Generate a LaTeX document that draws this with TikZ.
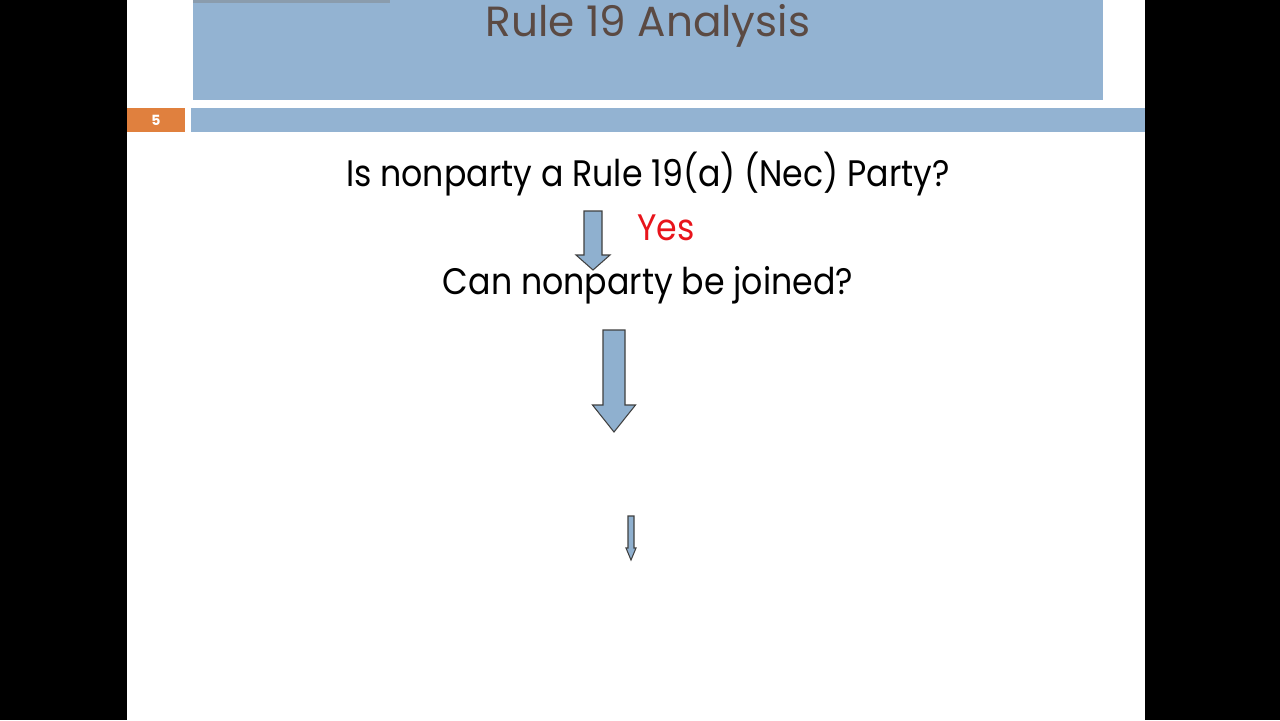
\documentclass[tikz,border=0pt]{standalone}
\usepackage{fontspec}
\setmainfont{Poppins}
\newfontfamily\narrowfont[FakeStretch=0.9]{Poppins}
\usetikzlibrary{positioning}
\definecolor{slideblue}{HTML}{93B3D2}
\definecolor{slideorange}{HTML}{E0803E}
\definecolor{titlebrown}{HTML}{5B4A43}
\definecolor{yesred}{HTML}{E8141B}
\definecolor{arrowblue}{HTML}{8FB0CF}
\tikzset{
  band/.style= {fill=slideblue, draw=none},
  title/.style= {font=\fontsize{24}{28}\selectfont, text=titlebrown, anchor=base, inner sep=0},
  question/.style= {font=\narrowfont\fontsize{21}{25}\selectfont, anchor=base, inner sep=0},
  answer/.style= {question, text=yesred},
  blockarrow/.style= {fill=arrowblue, draw=black!75, line width=0.6pt, line join=miter},
}
% block arrow pointing down: {x}{top}{half shaft}{half head}{head start}{tip}
\newcommand{\downarrowshape}[6]{%
  \draw[blockarrow] (#1-#3,#2) -- (#1+#3,#2) -- (#1+#3,#5) -- (#1+#4,#5)
    -- (#1,#6) -- (#1-#4,#5) -- (#1-#3,#5) -- cycle;
}

\begin{document}
\begin{tikzpicture}[x=0.02cm, y=-0.02cm]
  \useasboundingbox (0,0) rectangle (1280,720);
  \fill[black] (0,0) rectangle (1280,720);
  \fill[white] (127,0) rectangle (1145,720);

  % header
  \fill[band] (193,0) rectangle (1103,100);
  \fill[black!50, opacity=0.45] (193,0) rectangle (390,3);
  \fill[band] (191,108) rectangle (1145,132);
  \fill[slideorange] (127,108) rectangle (185,132);
  \node[font=\bfseries\fontsize{8}{8}\selectfont, text=white] (num) at (156,120) {5};
  \node[title] (head) at (648,36) {Rule 19 Analysis};

  % flow
  \node[question] (nec) at (648,186) {Is nonparty a Rule 19(a) (Nec) Party?};
  \node[answer] (yes) at (666,240) {Yes};
  \node[question] (join) at (648,294) {Can nonparty be joined?};

  \downarrowshape{593}{211}{9}{17}{255}{270}
  \downarrowshape{614}{330}{11}{21.5}{405}{432}
  \downarrowshape{631}{516}{3}{5}{548}{560}
\end{tikzpicture}
\end{document}
